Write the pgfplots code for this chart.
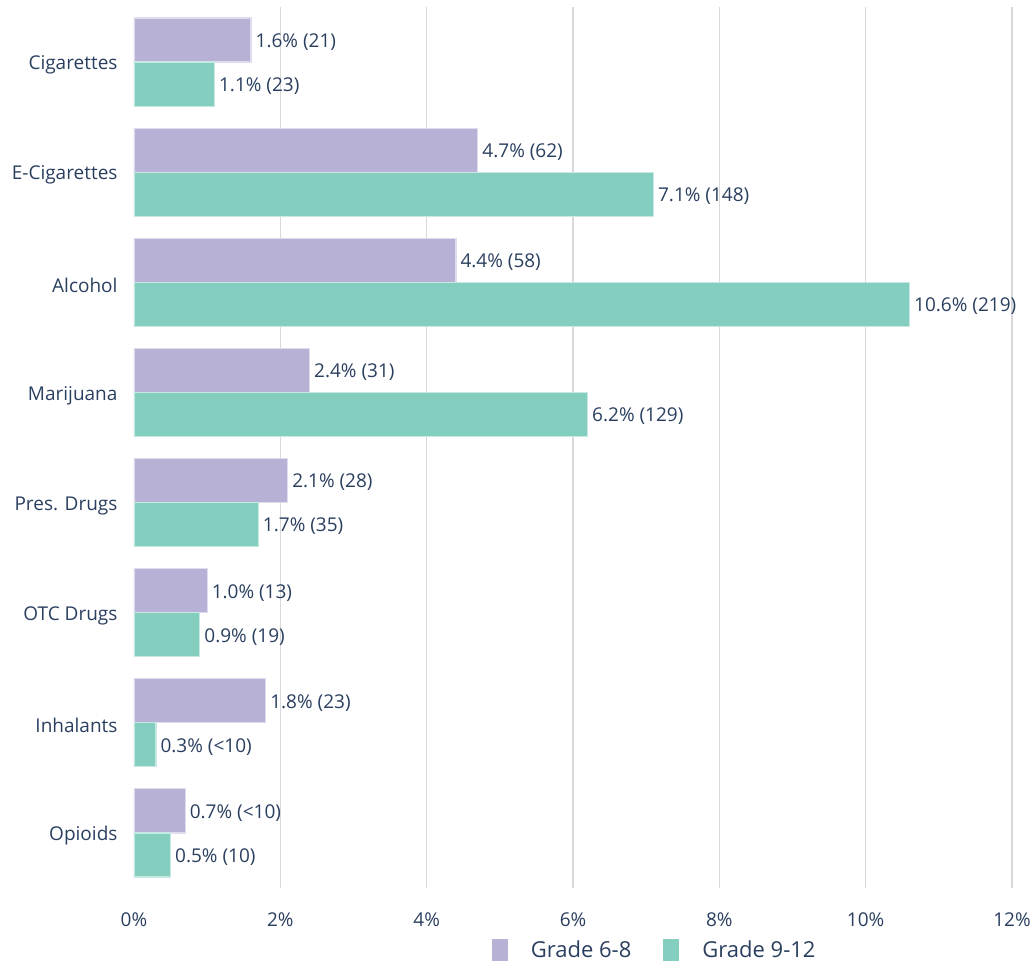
\documentclass[border=0pt]{standalone}
\usepackage{pgfplots}
\pgfplotsset{compat=1.18}
\usepackage{pgfplotstable}
\usepackage{fontspec}
\setmainfont{Open Sans}
\definecolor{txt}{HTML}{2A3F5F}
\definecolor{cpur}{HTML}{B7B1D6}
\definecolor{cteal}{HTML}{84CEC0}
\definecolor{gridc}{HTML}{D9D9D9}
\pgfplotstableread{
y a na b nb
7 1.6 21 1.1 23
6 4.7 62 7.1 148
5 4.4 58 10.6 219
4 2.4 31 6.2 129
3 2.1 28 1.7 35
2 1.0 13 0.9 19
1 1.8 23 0.3 <10
0 0.7 <10 0.5 10
}\data
\begin{document}
\begin{tikzpicture}
\useasboundingbox (-134bp,-73bp) rectangle (898bp,888bp);
\begin{axis}[
  scale only axis,
  width=878bp, height=881bp,
  xmin=0, xmax=12, ymin=-0.5, ymax=7.5,
  xbar, bar width=0.4,
  axis line style={draw=none},
  major tick length=0pt,
  xtick={2,4,...,12},
  extra x ticks={0},
  extra x tick style={grid=none},
  xmajorgrids,
  grid style={color=gridc, line width=1.3bp},
  ytick={0,...,7},
  yticklabels={Opioids,Inhalants,OTC Drugs,Pres. Drugs,Marijuana,Alcohol,E-Cigarettes,Cigarettes},
  yticklabel style={font=\fontsize{19bp}{22bp}\selectfont, color=txt, xshift=-13bp, yshift=-3bp},
  xticklabel={\pgfmathprintnumber{\tick}\%},
  xticklabel style={font=\fontsize{19bp}{22bp}\selectfont, color=txt, yshift=-21bp},
  /pgf/number format/assume math mode=true,
  point meta=explicit symbolic,
  visualization depends on={rawx \as \xv},
  nodes near coords={\pgfmathprintnumber[fixed,fixed zerofill,precision=1,assume math mode=true]{\xv}\%~(\pgfplotspointmeta)},
  nodes near coords style={font=\fontsize{19bp}{22bp}\selectfont, color=txt, anchor=west, inner sep=4bp, yshift=-2bp},
  legend columns=2,
  legend style={draw=none, fill=none, at={(0.593,-0.0704)}, anchor=center,
    font=\fontsize{22bp}{24bp}\selectfont, text=txt,
    /tikz/every even column/.append style={column sep=30bp}},
  legend image code/.code={\path[#1,draw=none] (0bp,-11bp) rectangle (16bp,11bp);},
]
\addplot[fill=cpur, draw=white!55!cpur, line width=1.2bp, bar shift=0.2]
  table[x=a, y=y, meta=na] {\data};
\addplot[fill=cteal, draw=white!55!cteal, line width=1.2bp, bar shift=-0.2]
  table[x=b, y=y, meta=nb] {\data};
\legend{\hspace{21bp}Grade 6-8, \hspace{21bp}Grade 9-12}
\end{axis}
\end{tikzpicture}
\end{document}
